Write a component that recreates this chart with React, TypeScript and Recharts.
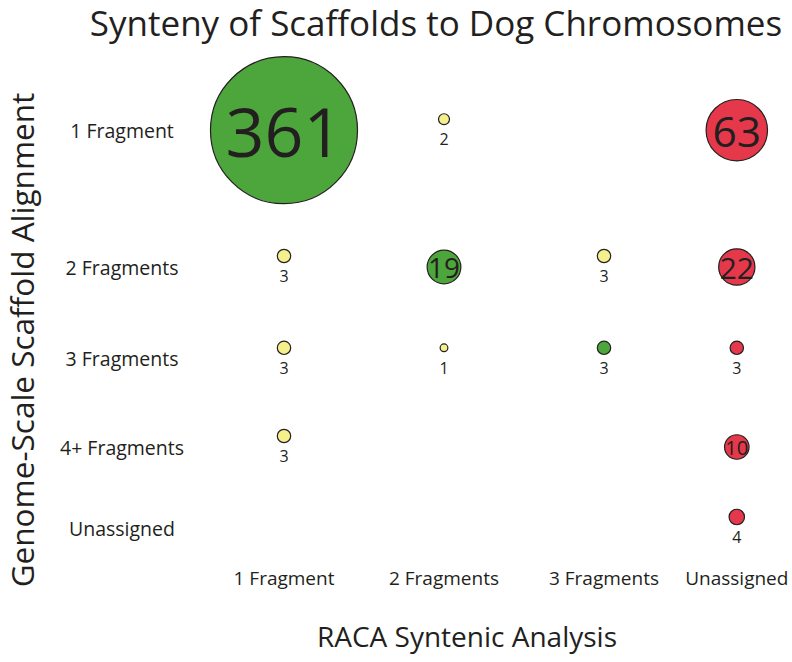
import React from 'react';
import { ScatterChart, Scatter, XAxis, YAxis, ZAxis } from 'recharts';

// ---- data ----
const X_CATS = ['1 Fragment', '2 Fragments', '3 Fragments', 'Unassigned'];
const Y_CATS = ['1 Fragment', '2 Fragments', '3 Fragments', '4+ Fragments', 'Unassigned'];

const greenPoints = [
  { raca: '1 Fragment', genome: '1 Fragment', count: 361 },
  { raca: '2 Fragments', genome: '2 Fragments', count: 19 },
  { raca: '3 Fragments', genome: '3 Fragments', count: 3 },
];
const yellowPoints = [
  { raca: '2 Fragments', genome: '1 Fragment', count: 2 },
  { raca: '1 Fragment', genome: '2 Fragments', count: 3 },
  { raca: '3 Fragments', genome: '2 Fragments', count: 3 },
  { raca: '1 Fragment', genome: '3 Fragments', count: 3 },
  { raca: '2 Fragments', genome: '3 Fragments', count: 1 },
  { raca: '1 Fragment', genome: '4+ Fragments', count: 3 },
];
const redPoints = [
  { raca: 'Unassigned', genome: '1 Fragment', count: 63 },
  { raca: 'Unassigned', genome: '2 Fragments', count: 22 },
  { raca: 'Unassigned', genome: '3 Fragments', count: 3 },
  { raca: 'Unassigned', genome: '4+ Fragments', count: 10 },
  { raca: 'Unassigned', genome: 'Unassigned', count: 4 },
];

// ---- layout (axis positions of the category slots) ----
const COL_POS = [0, 1, 2, 2.83];
const ROW_POS = [4.42, 2.9, 1.88, 0.9, 0];

const GREEN = '#4da63c';
const YELLOW = '#f6f08c';
const RED = '#e5394b';
const INK = '#231f20';
const FONT = '"Open Sans", sans-serif';

const place = (arr: any[]) =>
  arr.map((p) => ({
    ...p,
    x: COL_POS[X_CATS.indexOf(p.raca)],
    y: ROW_POS[Y_CATS.indexOf(p.genome)],
  }));

function Bubble(props: any) {
  const { cx, cy, size, payload, color } = props;
  const r = Math.sqrt(Math.max(size, 0) / Math.PI);
  const v = payload.count;
  if (r >= 11) {
    const fs = r > 20 ? 0.6 * r + 24 : 1.65 * r;
    return (
      <g>
        <circle cx={cx} cy={cy} r={r} fill={color} stroke={INK} strokeWidth={1.2} />
        <text x={cx} y={cy} textAnchor="middle" dominantBaseline="central" fontSize={fs} fill={INK} fontFamily={FONT}>
          {v}
        </text>
      </g>
    );
  }
  return (
    <g>
      <circle cx={cx} cy={cy - 11} r={r} fill={color} stroke={INK} strokeWidth={1.2} />
      <text x={cx} y={cy + 9} textAnchor="middle" dominantBaseline="central" fontSize={16} fill={INK} fontFamily={FONT}>
        {v}
      </text>
    </g>
  );
}

function XTick(props: any) {
  const { x, payload } = props;
  const idx = COL_POS.indexOf(payload.value);
  return (
    <text x={x} y={578} textAnchor="middle" dominantBaseline="central" fontSize={19} fill={INK} fontFamily={FONT}>
      {X_CATS[idx]}
    </text>
  );
}

function YTick(props: any) {
  const { y, payload } = props;
  const idx = ROW_POS.indexOf(payload.value);
  return (
    <text x={122} y={y} textAnchor="middle" dominantBaseline="central" fontSize={19.5} fill={INK} fontFamily={FONT}>
      {Y_CATS[idx]}
    </text>
  );
}

export default function App() {
  return (
    <div style={{ position: 'absolute', left: 0, top: 0, width: 792, height: 662, background: '#fff', fontFamily: FONT }}>
      <div
        style={{
          position: 'absolute', left: 76, top: 4, width: 720, textAlign: 'center',
          fontSize: 35, lineHeight: 1.1, color: INK, whiteSpace: 'nowrap',
        }}
      >
        Synteny of Scaffolds to Dog Chromosomes
      </div>
      <div
        style={{
          position: 'absolute', left: 22 - 300, top: 340 - 18, width: 600, height: 36, lineHeight: '36px',
          textAlign: 'center', fontSize: 31.5, color: INK, transform: 'rotate(-90deg)', whiteSpace: 'nowrap',
        }}
      >
        Genome-Scale Scaffold Alignment
      </div>
      <div
        style={{
          position: 'absolute', left: 467 - 300, top: 636 - 17, width: 600, height: 34, lineHeight: '34px',
          textAlign: 'center', fontSize: 28, color: INK, whiteSpace: 'nowrap',
        }}
      >
        RACA Syntenic Analysis
      </div>
      <div style={{ position: 'absolute', left: 0, top: 0 }}>
        <ScatterChart width={792} height={662} margin={{ top: 78, right: 12, bottom: 0, left: 0 }}>
          <XAxis
            type="number" dataKey="x" domain={[-0.5, 3.1]} ticks={COL_POS}
            axisLine={false} tickLine={false} tick={<XTick />} height={102.5} interval={0}
          />
          <YAxis
            type="number" dataKey="y" domain={[-0.35, 5.0]} ticks={ROW_POS}
            axisLine={false} tickLine={false} tick={<YTick />} width={204} interval={0}
          />
          <ZAxis type="number" dataKey="count" domain={[0, 'dataMax']} range={[0, 16972]} />
          <Scatter data={place(greenPoints)} isAnimationActive={false} shape={(p: any) => <Bubble {...p} color={GREEN} />} />
          <Scatter data={place(yellowPoints)} isAnimationActive={false} shape={(p: any) => <Bubble {...p} color={YELLOW} />} />
          <Scatter data={place(redPoints)} isAnimationActive={false} shape={(p: any) => <Bubble {...p} color={RED} />} />
        </ScatterChart>
      </div>
    </div>
  );
}
